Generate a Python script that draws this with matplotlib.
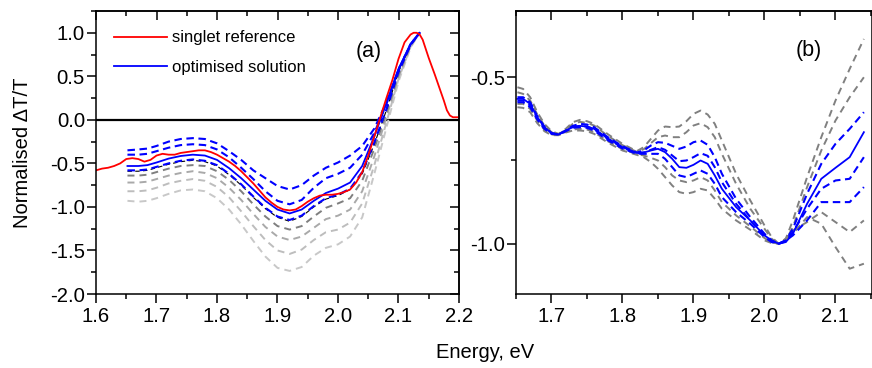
import matplotlib
matplotlib.use("Agg")
import matplotlib.pyplot as plt
from matplotlib.ticker import MultipleLocator, FormatStrFormatter
from matplotlib.lines import Line2D

plt.rcParams['font.family'] = ['Liberation Sans', 'DejaVu Sans']
plt.rcParams['axes.unicode_minus'] = False

# ---------------- panel (a) ----------------
energy_ref = [1.60, 1.61, 1.62, 1.63, 1.64, 1.65, 1.66, 1.67, 1.68, 1.69, 1.70, 1.71, 1.72,
              1.73, 1.74, 1.75, 1.76, 1.77, 1.78, 1.79, 1.80, 1.81, 1.82, 1.83, 1.84, 1.85,
              1.86, 1.87, 1.88, 1.89, 1.90, 1.91, 1.92, 1.93, 1.94, 1.95, 1.96, 1.97, 1.98,
              1.99, 2.00, 2.01, 2.02, 2.03, 2.04, 2.05, 2.06, 2.07, 2.08, 2.09, 2.10, 2.11,
              2.12, 2.125, 2.13, 2.135, 2.14, 2.15, 2.16, 2.17, 2.175, 2.18, 2.185, 2.19, 2.20]
singlet_ref = [-0.58, -0.56, -0.55, -0.53, -0.50, -0.45, -0.44, -0.45, -0.48, -0.46, -0.41, -0.39, -0.40,
               -0.40, -0.38, -0.37, -0.36, -0.35, -0.35, -0.37, -0.40, -0.44, -0.48, -0.53, -0.59, -0.66,
               -0.73, -0.81, -0.89, -0.95, -1.00, -1.03, -1.04, -1.03, -0.99, -0.94, -0.90, -0.87, -0.86,
               -0.86, -0.85, -0.83, -0.80, -0.72, -0.60, -0.41, -0.19, 0.03, 0.25, 0.46, 0.70, 0.89,
               0.98, 1.00, 1.00, 0.98, 0.92, 0.71, 0.52, 0.32, 0.22, 0.11, 0.05, 0.03, 0.03]

energy_a = [1.652, 1.67, 1.685, 1.70, 1.72, 1.74, 1.76, 1.78, 1.80, 1.82, 1.84, 1.86, 1.88,
            1.90, 1.92, 1.94, 1.96, 1.98, 2.00, 2.02, 2.04, 2.06, 2.08, 2.10, 2.12, 2.135]
optimised_a = [-0.53, -0.53, -0.52, -0.49, -0.445, -0.415, -0.40, -0.41, -0.46, -0.555, -0.67, -0.80, -0.93,
               -1.03, -1.075, -1.03, -0.93, -0.84, -0.79, -0.72, -0.53, -0.19, 0.19, 0.58, 0.87, 1.00]
blue_a1 = [-0.35, -0.34, -0.33, -0.30, -0.25, -0.22, -0.21, -0.22, -0.27, -0.36, -0.46, -0.58, -0.67,
           -0.76, -0.80, -0.75, -0.64, -0.55, -0.49, -0.41, -0.30, -0.10, 0.20, 0.58, 0.87, 1.00]
blue_a2 = [-0.40, -0.40, -0.39, -0.36, -0.32, -0.29, -0.28, -0.29, -0.34, -0.43, -0.55, -0.68, -0.82,
           -0.93, -0.97, -0.92, -0.78, -0.67, -0.62, -0.55, -0.40, -0.15, 0.18, 0.58, 0.87, 1.00]
blue_a3 = [-0.58, -0.58, -0.57, -0.54, -0.50, -0.47, -0.455, -0.47, -0.52, -0.62, -0.74, -0.88, -1.01,
           -1.11, -1.15, -1.10, -0.99, -0.90, -0.86, -0.79, -0.60, -0.26, 0.12, 0.55, 0.86, 1.00]
black_a = [-0.59, -0.59, -0.58, -0.55, -0.51, -0.48, -0.465, -0.48, -0.53, -0.63, -0.75, -0.89, -1.02,
           -1.12, -1.165, -1.11, -1.00, -0.91, -0.87, -0.80, -0.62, -0.28, 0.11, 0.55, 0.86, 1.00]
grey_a1 = [-0.64, -0.64, -0.63, -0.60, -0.56, -0.53, -0.52, -0.53, -0.59, -0.69, -0.82, -0.97, -1.11,
           -1.22, -1.26, -1.22, -1.11, -1.01, -0.96, -0.90, -0.70, -0.33, 0.08, 0.52, 0.86, 1.00]
grey_a2 = [-0.72, -0.72, -0.71, -0.68, -0.64, -0.61, -0.59, -0.61, -0.67, -0.78, -0.92, -1.08, -1.23,
           -1.34, -1.38, -1.34, -1.24, -1.14, -1.10, -1.03, -0.82, -0.42, 0.03, 0.49, 0.85, 1.00]
grey_a3 = [-0.82, -0.82, -0.81, -0.78, -0.73, -0.70, -0.68, -0.70, -0.77, -0.89, -1.05, -1.22, -1.38,
           -1.50, -1.54, -1.49, -1.38, -1.29, -1.26, -1.18, -0.96, -0.52, -0.03, 0.47, 0.84, 1.00]
grey_a4 = [-0.93, -0.94, -0.93, -0.90, -0.85, -0.81, -0.80, -0.82, -0.90, -1.03, -1.20, -1.39, -1.57,
           -1.70, -1.735, -1.69, -1.56, -1.47, -1.43, -1.34, -1.12, -0.62, -0.09, 0.44, 0.83, 1.00]

# ---------------- panel (b) ----------------
energy_b = [1.652, 1.66, 1.67, 1.68, 1.69, 1.70, 1.71, 1.72, 1.73, 1.74, 1.75, 1.76, 1.78, 1.80,
            1.82, 1.83, 1.84, 1.85, 1.86, 1.87, 1.88, 1.89, 1.90, 1.91, 1.92, 1.93, 1.94, 1.96,
            1.98, 2.00, 2.01, 2.02, 2.03, 2.04, 2.06, 2.08, 2.10, 2.12, 2.14]
optimised_b = [-0.565, -0.565, -0.58, -0.62, -0.65, -0.668, -0.672, -0.66, -0.65, -0.646, -0.648, -0.655, -0.685, -0.71,
               -0.727, -0.726, -0.72, -0.715, -0.725, -0.745, -0.77, -0.772, -0.763, -0.75, -0.76, -0.795, -0.835, -0.89,
               -0.93, -0.975, -0.99, -1.0, -0.995, -0.97, -0.88, -0.805, -0.772, -0.74, -0.665]
grey_b1 = [-0.53, -0.535, -0.56, -0.605, -0.64, -0.662, -0.67, -0.655, -0.635, -0.628, -0.632, -0.64, -0.672, -0.70,
           -0.722, -0.71, -0.685, -0.66, -0.648, -0.65, -0.648, -0.632, -0.61, -0.60, -0.612, -0.64, -0.69, -0.79,
           -0.87, -0.945, -0.98, -1.0, -0.985, -0.93, -0.80, -0.68, -0.57, -0.475, -0.385]
grey_b2 = [-0.545, -0.55, -0.57, -0.612, -0.645, -0.665, -0.671, -0.658, -0.64, -0.634, -0.637, -0.645, -0.677, -0.704,
           -0.724, -0.716, -0.698, -0.68, -0.675, -0.68, -0.68, -0.665, -0.645, -0.638, -0.65, -0.68, -0.73, -0.82,
           -0.895, -0.955, -0.985, -1.0, -0.99, -0.95, -0.83, -0.72, -0.63, -0.56, -0.50]
blue_b1 = [-0.56, -0.56, -0.575, -0.617, -0.648, -0.667, -0.672, -0.66, -0.646, -0.64, -0.642, -0.65, -0.681, -0.707,
           -0.726, -0.72, -0.705, -0.695, -0.697, -0.706, -0.715, -0.708, -0.695, -0.69, -0.703, -0.74, -0.79, -0.865,
           -0.92, -0.97, -0.99, -1.0, -0.99, -0.955, -0.85, -0.76, -0.70, -0.655, -0.605]
blue_b2 = [-0.57, -0.57, -0.585, -0.623, -0.652, -0.669, -0.672, -0.661, -0.65, -0.646, -0.648, -0.656, -0.686, -0.711,
           -0.728, -0.726, -0.718, -0.71, -0.718, -0.735, -0.752, -0.75, -0.74, -0.728, -0.736, -0.77, -0.815, -0.88,
           -0.93, -0.975, -0.993, -1.0, -0.993, -0.965, -0.895, -0.835, -0.81, -0.805, -0.74]
blue_b3 = [-0.575, -0.575, -0.59, -0.627, -0.655, -0.67, -0.672, -0.662, -0.652, -0.65, -0.652, -0.66, -0.69, -0.714,
           -0.73, -0.73, -0.73, -0.73, -0.745, -0.77, -0.795, -0.80, -0.79, -0.78, -0.79, -0.82, -0.86, -0.905,
           -0.94, -0.98, -0.995, -1.0, -0.99, -0.975, -0.93, -0.875, -0.875, -0.875, -0.83]
grey_b3 = [-0.58, -0.58, -0.595, -0.63, -0.658, -0.672, -0.673, -0.664, -0.657, -0.655, -0.657, -0.665, -0.693, -0.716,
           -0.731, -0.735, -0.742, -0.75, -0.77, -0.795, -0.81, -0.815, -0.81, -0.80, -0.81, -0.84, -0.875, -0.915,
           -0.948, -0.983, -0.996, -1.0, -0.985, -0.96, -0.935, -0.905, -0.935, -0.965, -0.93]
grey_b4 = [-0.59, -0.592, -0.605, -0.638, -0.662, -0.674, -0.674, -0.666, -0.66, -0.66, -0.662, -0.67, -0.697, -0.72,
           -0.733, -0.74, -0.755, -0.775, -0.80, -0.825, -0.845, -0.85, -0.845, -0.835, -0.84, -0.865, -0.895, -0.93,
           -0.958, -0.99, -0.998, -1.0, -0.99, -0.97, -0.92, -0.94, -1.01, -1.075, -1.06]

BLUE = '#0000ff'
RED = '#ff0000'
FS_TICK = 14.6

W, H = 872, 368
fig = plt.figure(figsize=(W / 100, H / 100), dpi=100)
ax_a = fig.add_axes([96 / W, 1 - 294 / H, (459 - 96) / W, (294 - 11) / H])
ax_b = fig.add_axes([516 / W, 1 - 294 / H, (872.4 - 516) / W, (294 - 11) / H])

blue_dash = dict(color=BLUE, lw=1.5, dashes=(3.6, 2.2))
grey_dash = dict(lw=1.4, dashes=(3.6, 2.6))

# panel (a) curves
for vals, col in [(grey_a4, '#c8c8c8'), (grey_a3, '#bdbdbd'), (grey_a2, '#a9a9a9'), (grey_a1, '#7f7f7f')]:
    ax_a.plot(energy_a, vals, color=col, **grey_dash)
ax_a.plot(energy_a, black_a, color='black', lw=0.8, dashes=(4, 3))
for vals in (blue_a3, blue_a2, blue_a1):
    ax_a.plot(energy_a, vals, **blue_dash)
ax_a.plot(energy_a, optimised_a, color=BLUE, lw=1.3)
ax_a.plot(energy_ref, singlet_ref, color=RED, lw=1.3)
ax_a.axhline(0, color='black', lw=1.6, zorder=1)

ax_a.set_xlim(1.6, 2.2)
ax_a.set_ylim(-2.0, 1.25)
ax_a.xaxis.set_major_locator(MultipleLocator(0.1))
ax_a.xaxis.set_minor_locator(MultipleLocator(0.05))
ax_a.yaxis.set_major_locator(MultipleLocator(0.5))
ax_a.yaxis.set_minor_locator(MultipleLocator(0.25))
ax_a.xaxis.set_major_formatter(FormatStrFormatter('%.1f'))
ax_a.yaxis.set_major_formatter(FormatStrFormatter('%.1f'))
ax_a.text(2.051, 0.79, '(a)', fontsize=15.5, ha='center', va='center')

handles = [Line2D([], [], color=RED, lw=1.3), Line2D([], [], color=BLUE, lw=1.3)]
ax_a.legend(handles, ['singlet reference', 'optimised solution'], loc='upper left',
            bbox_to_anchor=(0.03, 0.955), frameon=False, fontsize=12,
            handlelength=3.2, handletextpad=0.3, labelspacing=0.85, borderaxespad=0)

# panel (b) curves
for vals in (grey_b1, grey_b2, grey_b3, grey_b4):
    ax_b.plot(energy_b, vals, color='#808080', **grey_dash)
for vals in (blue_b1, blue_b2, blue_b3):
    ax_b.plot(energy_b, vals, **blue_dash)
ax_b.plot(energy_b, optimised_b, color=BLUE, lw=1.3)

ax_b.set_xlim(1.65, 2.152)
ax_b.set_ylim(-1.151, -0.301)
ax_b.xaxis.set_major_locator(MultipleLocator(0.1))
ax_b.xaxis.set_minor_locator(MultipleLocator(0.05))
ax_b.yaxis.set_major_locator(MultipleLocator(0.5))
ax_b.yaxis.set_minor_locator(MultipleLocator(0.25))
ax_b.xaxis.set_major_formatter(FormatStrFormatter('%.1f'))
ax_b.yaxis.set_major_formatter(FormatStrFormatter('%.1f'))
ax_b.text(2.062, -0.421, '(b)', fontsize=15.5, ha='center', va='center')

for ax in (ax_a, ax_b):
    for sp in ax.spines.values():
        sp.set_linewidth(1.1)
    ax.tick_params(which='both', direction='out', width=1.1, labelsize=FS_TICK,
                   top=False, right=False)
    ax.tick_params(which='major', length=6.5)
    ax.tick_params(which='minor', length=3.5)
    ax.tick_params(axis='y', pad=1.5)
    ax.tick_params(axis='x', pad=3)
    # mirrored inward ticks on the opposite sides
    sx = ax.secondary_xaxis('top')
    sx.xaxis.set_major_locator(MultipleLocator(0.1))
    sx.xaxis.set_minor_locator(MultipleLocator(0.05))
    sx.tick_params(which='both', direction='in', width=1.1, labeltop=False)
    sx.tick_params(which='major', length=6.5)
    sx.tick_params(which='minor', length=3.5)
    sx.spines['top'].set_linewidth(1.1)

sy = ax_a.secondary_yaxis('right')
sy.yaxis.set_major_locator(MultipleLocator(0.5))
sy.yaxis.set_minor_locator(MultipleLocator(0.25))
sy.tick_params(which='both', direction='in', width=1.1, labelright=False)
sy.tick_params(which='major', length=6.5)
sy.tick_params(which='minor', length=3.5)
sy.spines['right'].set_linewidth(1.1)

fig.text(22 / W, 1 - 152.5 / H, 'Normalised ΔT/T', rotation=90, fontsize=14.5,
         ha='center', va='center')
fig.text(485 / W, 1 - 352 / H, 'Energy, eV', fontsize=14.5, ha='center', va='center')

fig.savefig('out.png', dpi=100)
